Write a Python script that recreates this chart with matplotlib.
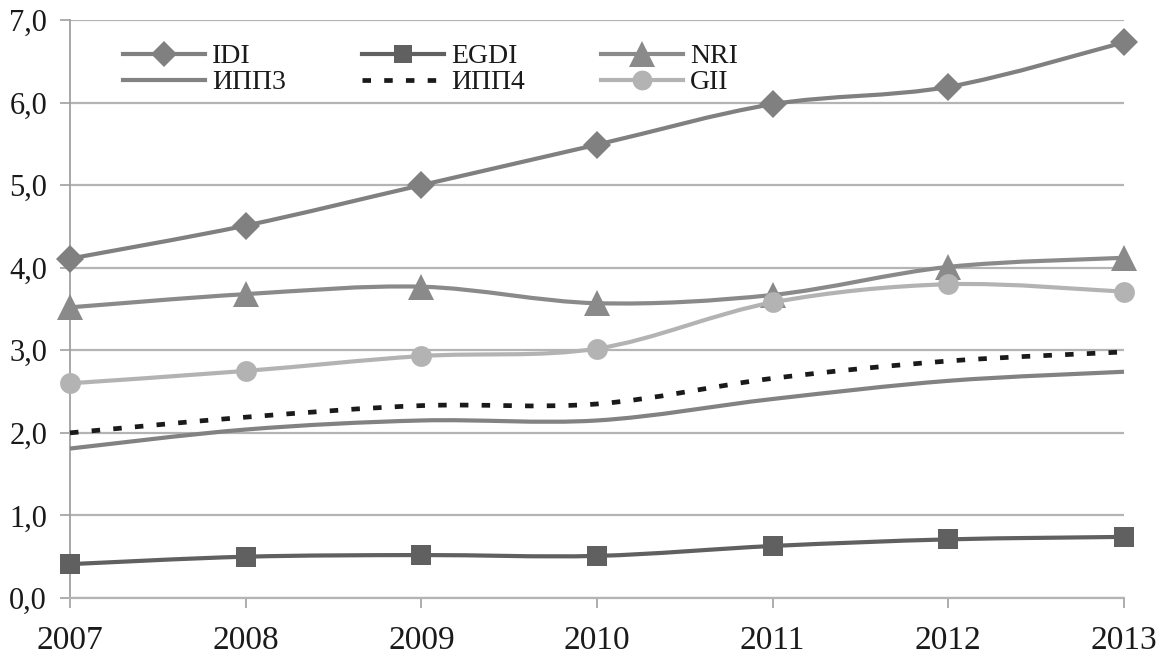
import matplotlib
matplotlib.use("Agg")
import matplotlib.pyplot as plt
from matplotlib.path import Path
from matplotlib.patches import PathPatch
from matplotlib.lines import Line2D
from matplotlib.ticker import FuncFormatter, MultipleLocator

plt.rcParams['font.family'] = ['Liberation Serif', 'DejaVu Serif']

years = [2007, 2008, 2009, 2010, 2011, 2012, 2013]
idi = [4.11, 4.51, 5.00, 5.49, 5.98, 6.19, 6.73]
egdi = [0.41, 0.50, 0.52, 0.51, 0.63, 0.71, 0.74]
nri = [3.52, 3.68, 3.77, 3.57, 3.67, 4.01, 4.12]
ipp3 = [1.81, 2.04, 2.15, 2.15, 2.41, 2.63, 2.74]
ipp4 = [2.00, 2.19, 2.33, 2.35, 2.66, 2.87, 2.98]
gii = [2.60, 2.75, 2.93, 3.02, 3.58, 3.80, 3.71]

series = [
    # label, values, color, marker, marker size, line style
    ("IDI", idi, "#808080", "D", 14, "-"),
    ("EGDI", egdi, "#606060", "s", 14, "-"),
    ("NRI", nri, "#8a8a8a", "^", 19, "-"),
    ("ИПП3", ipp3, "#828282", None, 0, "-"),
    ("ИПП4", ipp4, "#1a1a1a", None, 0, (0, (1.8, 2.8))),
    ("GII", gii, "#b3b3b3", "o", 15, "-"),
]

LW = 3.0
DASH_LW = 3.4


def smooth_path(xs, ys):
    """Cubic Bezier path through the points (Catmull-Rom style tangents)."""
    pts = list(zip(xs, ys))
    n = len(pts)
    verts = [pts[0]]
    codes = [Path.MOVETO]
    for i in range(n - 1):
        p0 = pts[i - 1] if i > 0 else pts[i]
        p1 = pts[i]
        p2 = pts[i + 1]
        p3 = pts[i + 2] if i + 2 < n else pts[i + 1]
        c1 = (p1[0] + (p2[0] - p0[0]) / 6.0, p1[1] + (p2[1] - p0[1]) / 6.0)
        c2 = (p2[0] - (p3[0] - p1[0]) / 6.0, p2[1] - (p3[1] - p1[1]) / 6.0)
        verts += [c1, c2, p2]
        codes += [Path.CURVE4] * 3
    return Path(verts, codes)


fig = plt.figure(figsize=(11.6, 6.58), dpi=100)
ax = fig.add_axes([70 / 1160, 60 / 658, (1124 - 70) / 1160, (598 - 20) / 658])

ax.set_xlim(2007, 2013)
ax.set_ylim(0, 7)

grid_c = "#b4b4b4"
ax.yaxis.set_major_locator(MultipleLocator(1))
ax.xaxis.set_major_locator(MultipleLocator(1))
ax.grid(axis="y", color=grid_c, linewidth=1.6)
ax.set_axisbelow(True)
for s in ("top", "right"):
    ax.spines[s].set_visible(False)
ax.spines["left"].set_color("#a0a0a0")
ax.spines["left"].set_linewidth(1.3)
ax.spines["bottom"].set_color(grid_c)
ax.spines["bottom"].set_linewidth(1.6)

ax.yaxis.set_major_formatter(FuncFormatter(lambda v, p: f"{v:.1f}".replace(".", ",")))
ax.xaxis.set_major_formatter(FuncFormatter(lambda v, p: f"{int(round(v))}"))
ax.tick_params(axis="y", direction="out", length=7.5, width=1.2, color="#a0a0a0",
               labelsize=22, pad=9, labelcolor="#1a1a1a")
ax.tick_params(axis="x", direction="out", length=7.5, width=1.2, color="#a0a0a0",
               labelsize=24, pad=12, labelcolor="#1a1a1a")

handles = []
for z, (label, vals, color, marker, ms, ls) in enumerate(series):
    lw = LW if ls == "-" else DASH_LW
    patch = PathPatch(smooth_path(years, vals), fill=False, edgecolor=color,
                      linewidth=lw, linestyle=ls,
                      capstyle="butt", joinstyle="round", zorder=3 + z, clip_on=False)
    ax.add_patch(patch)
    if marker:
        ax.plot(years, vals, linestyle="none", marker=marker, markersize=ms,
                markerfacecolor=color, markeredgecolor=color, markeredgewidth=0,
                zorder=3 + z, clip_on=False)
    handles.append(Line2D([], [], color=color, linewidth=lw,
                          linestyle=ls, marker=marker if marker else None,
                          markersize=ms * 0.95, markeredgewidth=0,
                          dash_capstyle="butt"))

# legend laid out in two rows of three; column-major order for ncol=3
order = [0, 3, 1, 4, 2, 5]
leg = fig.legend([handles[i] for i in order], [series[i][0] for i in order],
                 ncol=3, loc="upper left",
                 bbox_to_anchor=(123 / 1160, 1 - 44 / 658),
                 bbox_transform=fig.transFigure,
                 frameon=False, fontsize=20, handlelength=2.95, handletextpad=0.25,
                 columnspacing=2.75, labelspacing=0.015, borderpad=0, borderaxespad=0)
for t in leg.get_texts():
    t.set_color("#1a1a1a")

fig.savefig("out.png", dpi=100)
